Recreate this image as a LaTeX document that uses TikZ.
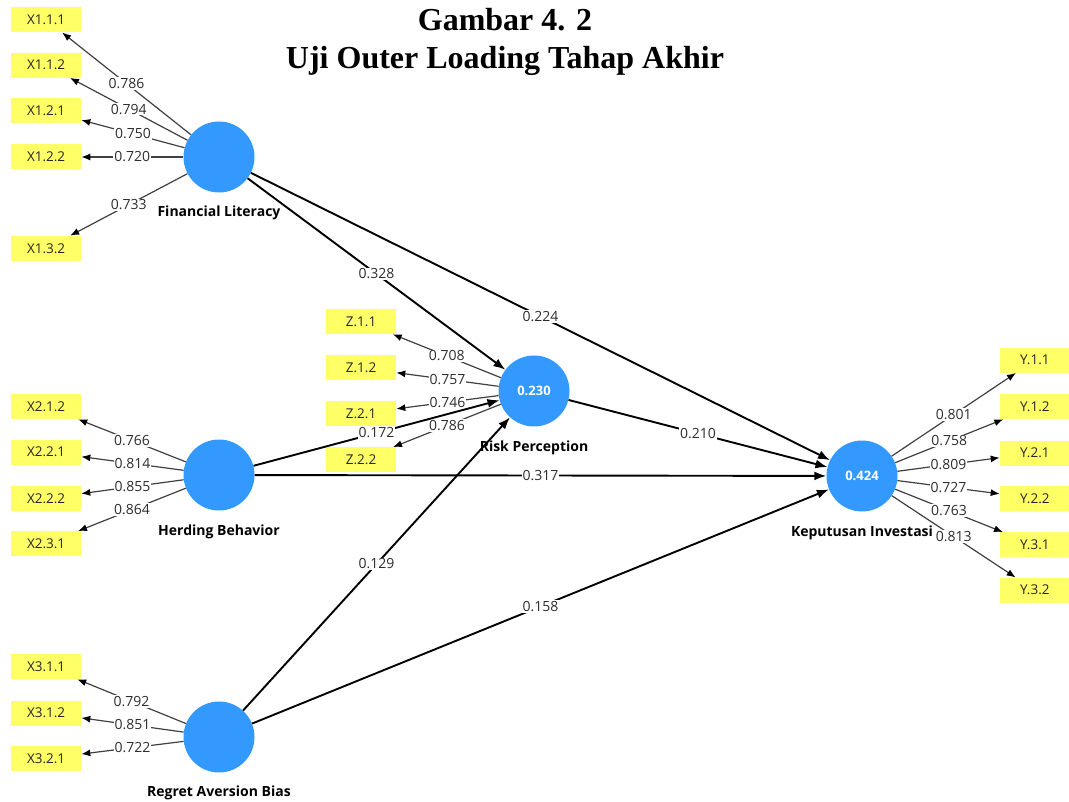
\documentclass[tikz,border=0pt]{standalone}
\usepackage{fontspec}
\setmainfont{Open Sans}
\newfontfamily\headfont{Liberation Serif}
\usepackage{tikz}
\usetikzlibrary{arrows.meta,positioning}
\definecolor{lvblue}{RGB}{51,153,255}
\definecolor{indyellow}{RGB}{255,255,102}
\definecolor{loadgray}{RGB}{64,64,64}
\definecolor{numgray}{RGB}{45,45,45}
\tikzstyle{latent} = [circle, fill=lvblue, text=white, font=\fontsize{13}{15}\selectfont\bfseries, minimum size=71pt, inner sep=0pt]
\tikzstyle{indicator} = [rectangle, fill=indyellow, text=black!85, font=\fontsize{13.5}{15}\selectfont, minimum width=70pt, minimum height=25pt, inner sep=0pt]
\tikzstyle{lvname} = [text=black, font=\fontsize{14}{16}\selectfont\bfseries, inner sep=1pt, text height=10pt, text depth=3pt]
\tikzstyle{coef} = [midway, fill=white, text=numgray, font=\fontsize{14}{16}\selectfont, inner sep=1pt]
\tikzstyle{tedge} = [draw, line width=1.9pt, -{Latex[length=12pt,width=9pt]}]
\tikzstyle{ledge} = [draw=loadgray, line width=1.2pt, -{Latex[length=9pt,width=7pt,color=black]}]

\begin{document}
\begin{tikzpicture}[x=1pt, y=-1pt]
\useasboundingbox (0,0) rectangle (1069,802);

% title ==================================
\node[align=center, font={\headfont\fontsize{32}{38}\selectfont\bfseries}] (title) at (505,42) {Gambar 4. 2\\Uji Outer Loading Tahap Akhir};

% latent variables =======================
\node[latent] (fl) at (219,157) {};
\node[latent] (hb) at (219,475) {};
\node[latent] (rab) at (219,737) {};
\node[latent] (rp) at (534,391) {0.230};
\node[latent] (ki) at (862,476) {0.424};

\node[lvname, below=13pt of fl] (fltxt) {Financial Literacy};
\node[lvname, below=14pt of hb] (hbtxt) {Herding Behavior};
\node[lvname, below=13pt of rab] (rabtxt) {Regret Aversion Bias};
\node[lvname, below=14pt of rp] (rptxt) {Risk Perception};
\node[lvname, below=14pt of ki] (kitxt) {Keputusan Investasi};

% indicators =============================

% financial literacy
\node[indicator, left=102pt of fl] (x122) {X1.2.2};
\node[indicator, above=21pt of x122] (x121) {X1.2.1};
\node[indicator, above=20pt of x121] (x112) {X1.1.2};
\node[indicator, above=20pt of x112] (x111) {X1.1.1};
\node[indicator, below=66pt of x122] (x132) {X1.3.2};

% herding behavior
\node[indicator, left=102pt of hb, yshift=23pt] (x221) {X2.2.1};
\node[indicator, above=20pt of x221] (x212) {X2.1.2};
\node[indicator, below=21pt of x221] (x222) {X2.2.2};
\node[indicator, below=20pt of x222] (x231) {X2.3.1};

% regret aversion bias
\node[indicator, left=102pt of rab, yshift=24pt] (x312) {X3.1.2};
\node[indicator, above=21pt of x312] (x311) {X3.1.1};
\node[indicator, below=20pt of x312] (x321) {X3.2.1};

% risk perception
\node[indicator, left=102pt of rp, yshift=23pt] (z12) {Z.1.2};
\node[indicator, above=21pt of z12] (z11) {Z.1.1};
\node[indicator, below=20pt of z12] (z21) {Z.2.1};
\node[indicator, below=21pt of z21] (z22) {Z.2.2};

% keputusan investasi
\node[indicator, right=102pt of ki, yshift=23pt] (y21) {Y.2.1};
\node[indicator, above=21pt of y21] (y12) {Y.1.2};
\node[indicator, above=21pt of y12] (y11) {Y.1.1};
\node[indicator, below=20pt of y21] (y22) {Y.2.2};
\node[indicator, below=21pt of y22] (y31) {Y.3.1};
\node[indicator, below=20pt of y31] (y32) {Y.3.2};

% outer loadings =========================
\path[ledge] (fl) -- node[coef] {0.786} (x111);
\path[ledge] (fl) -- node[coef] {0.794} (x112);
\path[ledge] (fl) -- node[coef] {0.750} (x121);
\path[ledge] (fl) -- node[coef] {0.720} (x122);
\path[ledge] (fl) -- node[coef] {0.733} (x132);

\path[ledge] (hb) -- node[coef] {0.766} (x212);
\path[ledge] (hb) -- node[coef] {0.814} (x221);
\path[ledge] (hb) -- node[coef] {0.855} (x222);
\path[ledge] (hb) -- node[coef] {0.864} (x231);

\path[ledge] (rab) -- node[coef] {0.792} (x311);
\path[ledge] (rab) -- node[coef] {0.851} (x312);
\path[ledge] (rab) -- node[coef] {0.722} (x321);

\path[ledge] (rp) -- node[coef] {0.708} (z11);
\path[ledge] (rp) -- node[coef] {0.757} (z12);
\path[ledge] (rp) -- node[coef] {0.746} (z21);
\path[ledge] (rp) -- node[coef] {0.786} (z22);

\path[ledge] (ki) -- node[coef] {0.801} (y11);
\path[ledge] (ki) -- node[coef] {0.758} (y12);
\path[ledge] (ki) -- node[coef] {0.809} (y21);
\path[ledge] (ki) -- node[coef] {0.727} (y22);
\path[ledge] (ki) -- node[coef] {0.763} (y31);
\path[ledge] (ki) -- node[coef] {0.813} (y32);

% inner paths ============================
\path[tedge] (fl) -- node[coef] {0.328} (rp);
\path[tedge] (fl) -- node[coef] {0.224} (ki);
\path[tedge] (hb) -- node[coef] {0.172} (rp);
\path[tedge] (hb) -- node[coef] {0.317} (ki);
\path[tedge] (rab) -- node[coef] {0.129} (rp);
\path[tedge] (rab) -- node[coef] {0.158} (ki);
\path[tedge] (rp) -- node[coef] {0.210} (ki);

\end{tikzpicture}
\end{document}
